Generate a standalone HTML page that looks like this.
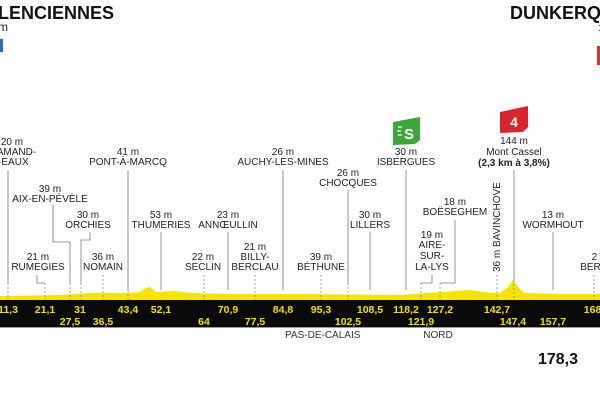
<!DOCTYPE html>
<html><head><meta charset="utf-8"><style>
html,body{margin:0;padding:0;background:#fff;width:600px;height:400px;overflow:hidden}
svg{display:block}
text{font-family:"Liberation Sans",sans-serif;}
.t{font-size:10px;fill:#222;text-anchor:middle}
.k{font-size:10.5px;fill:#f2e200;font-weight:bold;text-anchor:middle}
.l{stroke:#777;stroke-width:0.8;fill:none}
.d{stroke:#888;stroke-width:0.8;stroke-dasharray:2 2;fill:none}
</style></head><body>
<svg width="600" height="400" viewBox="0 0 600 400">
<text x="-2" y="19" font-size="18" font-weight="bold" fill="#111">LENCIENNES</text>
<text x="-2" y="31" font-size="12" fill="#222">m</text>
<rect x="0" y="39" width="3" height="13" fill="#2a6fb8"/>
<text x="510" y="19" font-size="18" font-weight="bold" fill="#111">DUNKERQ</text>
<text x="598" y="31" font-size="10" fill="#222">1</text>
<rect x="597" y="46" width="6" height="19" fill="#d9342b"/>

<path d="M0,296 L60,295 L90,293 L130,293 L140,292 L146,288 L150,287 L156,292 L175,291 L190,293 L230,294 L300,294 L400,295 L440,292 L470,290 L490,293 L500,293 L508,287 L513,280 L518,287 L524,293 L560,294 L600,294 L600,301 L0,301Z" fill="#f5e400"/>
<rect x="0" y="300" width="600" height="27" fill="#0a0a0a"/>
<line x1="0" y1="327.5" x2="600" y2="327.5" stroke="#999" stroke-width="1"/>

<g class="k">
<text x="8" y="313">11,3</text><text x="45" y="313">21,1</text><text x="80" y="313">31</text>
<text x="128" y="313">43,4</text><text x="161" y="313">52,1</text><text x="228" y="313">70,9</text>
<text x="283" y="313">84,8</text><text x="321" y="313">95,3</text><text x="370" y="313">108,5</text>
<text x="406" y="313">118,2</text><text x="440" y="313">127,2</text><text x="497" y="313">142,7</text>
<text x="594" y="313">168,</text>
<text x="70" y="325">27,5</text><text x="103" y="325">36,5</text><text x="204" y="325">64</text>
<text x="255" y="325">77,5</text><text x="348" y="325">102,5</text><text x="421" y="325">121,9</text>
<text x="513" y="325">147,4</text><text x="553" y="325">157,7</text>
</g>
<text x="285" y="338" font-size="10" fill="#333">PAS-DE-CALAIS</text>
<text x="438" y="338" font-size="10" fill="#333" text-anchor="middle">NORD</text>
<text x="558" y="364" font-size="16" font-weight="bold" fill="#111" text-anchor="middle">178,3</text>

<g>
<path class="l" d="M8,170V283"/><path class="d" d="M8,283V300"/>
<path class="l" d="M53,205V242H70V283"/><path class="d" d="M70,283V300"/>
<path class="l" d="M90,232V240H81V283"/><path class="d" d="M81,283V300"/>
<path class="l" d="M37,275V283H45"/><path class="d" d="M45,283V300"/>
<path class="d" d="M103,275V300"/>
<path class="l" d="M128,170V290"/><path class="d" d="M128,290V300"/>
<path class="l" d="M161,232V290"/>
<path class="d" d="M204,275V300"/>
<path class="l" d="M228,232V290"/>
<path class="d" d="M255,275V300"/>
<path class="l" d="M283,170V290"/>
<path class="d" d="M321,275V300"/>
<path class="l" d="M348,190V283"/><path class="d" d="M348,283V300"/>
<path class="l" d="M370,232V290"/>
<path class="l" d="M406,170V290"/>
<path class="l" d="M455,220V283H440"/><path class="d" d="M440,283V300"/>
<path class="l" d="M432,275V283H421"/><path class="d" d="M421,283V300"/>
<path class="d" d="M497,275V300"/>
<path class="l" d="M514,170V280"/><path class="d" d="M514,280V300"/>
<path class="l" d="M553,232V290"/>
<path class="d" d="M594,275V300"/>
</g>

<g class="t">
<text x="12" y="145">20 m</text><text x="12" y="155">T-AMAND-</text><text x="10" y="165">S-EAUX</text>
<text x="50" y="192">39 m</text><text x="50" y="202">AIX-EN-PÉVÈLE</text>
<text x="88" y="218">30 m</text><text x="88" y="228">ORCHIES</text>
<text x="38" y="260">21 m</text><text x="38" y="270">RUMEGIES</text>
<text x="103" y="260">36 m</text><text x="103" y="270">NOMAIN</text>
<text x="128" y="155">41 m</text><text x="128" y="165">PONT-À-MARCQ</text>
<text x="161" y="218">53 m</text><text x="161" y="228">THUMERIES</text>
<text x="203" y="260">22 m</text><text x="203" y="270">SECLIN</text>
<text x="228" y="218">23 m</text><text x="228" y="228">ANNŒULLIN</text>
<text x="255" y="250">21 m</text><text x="255" y="260">BILLY-</text><text x="255" y="270">BERCLAU</text>
<text x="283" y="155">26 m</text><text x="283" y="165">AUCHY-LES-MINES</text>
<text x="321" y="260">39 m</text><text x="321" y="270">BÉTHUNE</text>
<text x="348" y="176">26 m</text><text x="348" y="186">CHOCQUES</text>
<text x="370" y="218">30 m</text><text x="370" y="228">LILLERS</text>
<text x="406" y="155">30 m</text><text x="406" y="165">ISBERGUES</text>
<text x="455" y="205">18 m</text><text x="455" y="215">BOËSEGHEM</text>
<text x="432" y="238">19 m</text><text x="432" y="248">AIRE-</text><text x="432" y="259">SUR-</text><text x="432" y="270">LA-LYS</text>
<text x="553" y="218">13 m</text><text x="553" y="228">WORMHOUT</text>
<text x="600" y="260">2 m</text><text x="598" y="270">BERGU</text>
<text x="514" y="144">144 m</text><text x="514" y="155">Mont Cassel</text>
<text x="514" y="166" font-weight="bold">(2,3 km à 3,8%)</text>
</g>
<text transform="translate(500,272) rotate(-90)" font-size="10" fill="#222">36 m  BAVINCHOVE</text>

<path d="M393,122 L420,117 L420,140 L415,144 L393,145Z" fill="#3da63a"/>
<text x="409" y="139" font-size="15" font-weight="bold" fill="#fff" text-anchor="middle">S</text>
<path d="M398,127h4M397,131h4M398,135h4" stroke="#fff" stroke-width="1.2"/>
<path d="M500,112 L528,106 L528,127 L523,132 L500,133Z" fill="#d9242b"/>
<text x="514" y="127" font-size="14" font-weight="bold" fill="#fff" text-anchor="middle">4</text>
</svg>
</body></html>
